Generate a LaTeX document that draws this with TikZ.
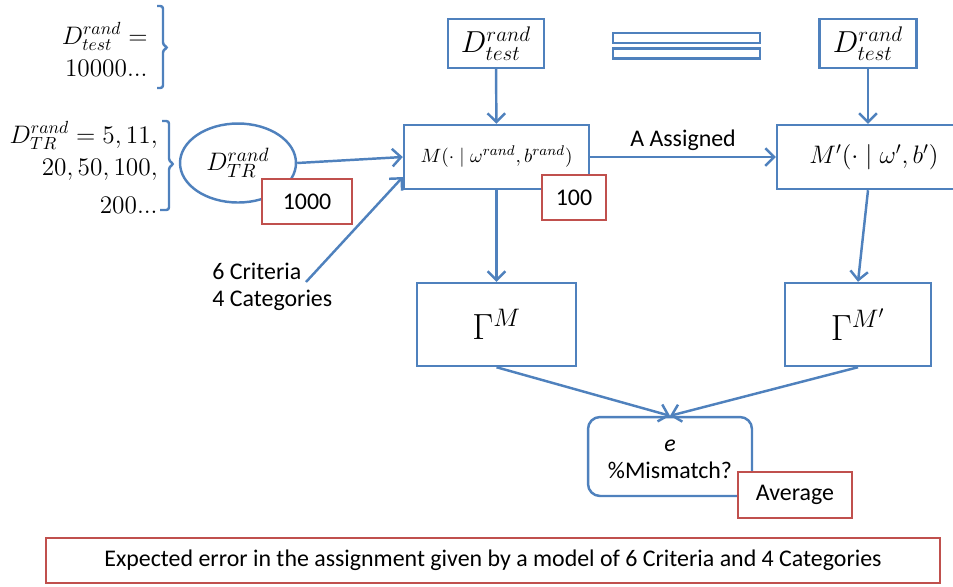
\documentclass[tikz,border=0pt]{standalone}
\usepackage[no-math]{fontspec}
\setsansfont{Carlito}
\usetikzlibrary{arrows.meta,shapes.geometric,calc}
\definecolor{pblue}{HTML}{4F81BD}
\definecolor{pred}{HTML}{C0504D}
\newcommand{\mathsize}{\fontsize{14.4}{17}\selectfont}
\newcommand{\textsize}{\fontsize{13.6}{15.4}\selectfont}
\begin{document}
\begin{tikzpicture}
[x=0.02cm,y=-0.02cm,
  arrowDecorate/.style={-{Straight Barb[length=5pt,width=10pt]},draw=pblue,line width=1.4pt},
  boxDecorate/.style={draw=pblue,line width=1.4pt,fill=white,inner sep=0pt,font=\mathsize},
  tagDecorate/.style={draw=pred,line width=1.4pt,fill=white,inner sep=0pt,font=\sffamily\textsize},
  braceDecorate/.style={draw=pblue,line width=1.4pt,rounded corners=1.5pt}]
\useasboundingbox (0,0) rectangle (953,586);
%% left labels and braces
\foreach \nodename/\x/\y/\txt in {
  {tst1/148/44/$D^{rand}_{test}=$}, {tst2/148/76/$10000{.}{.}{.}$},
  {tr1/158/143/$D^{rand}_{TR}=5,11,$}, {tr2/158/175/$20,50,100,$},
  {tr3/158/213/$200{.}{.}{.}$}}
{
  \node[anchor=base east,inner sep=0pt,font=\mathsize] (\nodename) at (\x,\y) {\txt};
}
\draw[braceDecorate] (157,6) -- (163,6) -- (163,45) -- (168,47.5) -- (163,50) -- (163,88) -- (157,88);
\draw[braceDecorate] (162,121) -- (169,121) -- (169,161) -- (174,164) -- (169,167) -- (169,210) -- (160,210);
%% nodes
\node[ellipse,draw=pblue,line width=1.4pt,minimum width=2.32cm,minimum height=1.58cm,
  inner sep=0pt,font=\fontsize{15.5}{18}\selectfont] (dtr) at (238,163) {$D^{rand}_{TR}$};
\node[boxDecorate,minimum width=1.92cm,minimum height=0.98cm,font=\fontsize{17}{20}\selectfont] (testL) at (496,43.5) {$D^{rand}_{test}$};
\node[boxDecorate,minimum width=1.94cm,minimum height=0.98cm,font=\fontsize{17}{20}\selectfont] (testR) at (868,43.5) {$D^{rand}_{test}$};
\foreach \nodename/\y in {bar1/38, bar2/53.5}
  \node[draw=pblue,line width=1.4pt,minimum width=2.94cm,minimum height=0.2cm,inner sep=0pt] (\nodename) at (686.5,\y) {};
\node[boxDecorate,minimum width=3.7cm,minimum height=1.28cm,font=\fontsize{11}{13}\selectfont] (model) at (496.5,157)
  {$M(\cdot\mid\omega^{rand},b^{rand})$};
\node[boxDecorate,minimum width=3.88cm,minimum height=1.28cm] (modelp) at (874,157) {$M'(\cdot\mid\omega',b')$};
\node[align=left,anchor=west,inner sep=0pt,font=\sffamily\textsize] (crit) at (212,287) {6 Criteria\\4 Categories};
\coordinate (critTip) at (306,282);
\node[boxDecorate,minimum width=3.18cm,minimum height=1.66cm,font=\fontsize{20}{24}\selectfont] (gam) at (496.5,324.5) {$\Gamma^M$};
\node[boxDecorate,minimum width=2.92cm,minimum height=1.66cm,font=\fontsize{20}{24}\selectfont] (gamp) at (858,324.5) {$\Gamma^{M'}$};
\node[draw=pblue,line width=1.4pt,rounded corners=0.24cm,minimum width=3.28cm,minimum height=1.58cm,
  align=center,inner sep=0pt,text height=25pt,font=\sffamily\textsize] (err) at (670,456.5) {\textit{e}\\\%Mismatch?};
\node[draw=pred,line width=1.4pt,minimum width=17.88cm,minimum height=0.9cm,inner sep=0pt,font=\sffamily\textsize] (summary)
  at (493,560.5) {Expected error in the assignment given by a model of 6 Criteria and 4 Categories};
%% edges
\path
\foreach \startnode/\endnode in {
  testL/model, model/gam, dtr.east/model.west, gam.south/err.north, gamp.south/err.north}
{
  (\startnode) edge[arrowDecorate] (\endnode)
};
\draw[arrowDecorate] (testR) -- (testR |- modelp.north);
\draw[arrowDecorate] (testR |- modelp.south) -- (gamp.north);
\draw[arrowDecorate] (critTip) -- ($(model.west)+(0,20)$);
\draw[arrowDecorate] (model) -- (modelp)
  node[midway,above=2.8pt,inner sep=0pt,font=\sffamily\textsize] (assigned) {A Assigned};
%% tags on top
\node[tagDecorate,minimum width=1.8cm,minimum height=0.9cm] (n1000) at (307,201.5) {1000};
\node[tagDecorate,minimum width=1.28cm,minimum height=0.9cm] (n100) at (574,197.5) {100};
\node[tagDecorate,minimum width=2.28cm,minimum height=0.92cm] (avg) at (795,495) {Average};
\end{tikzpicture}
\end{document}
